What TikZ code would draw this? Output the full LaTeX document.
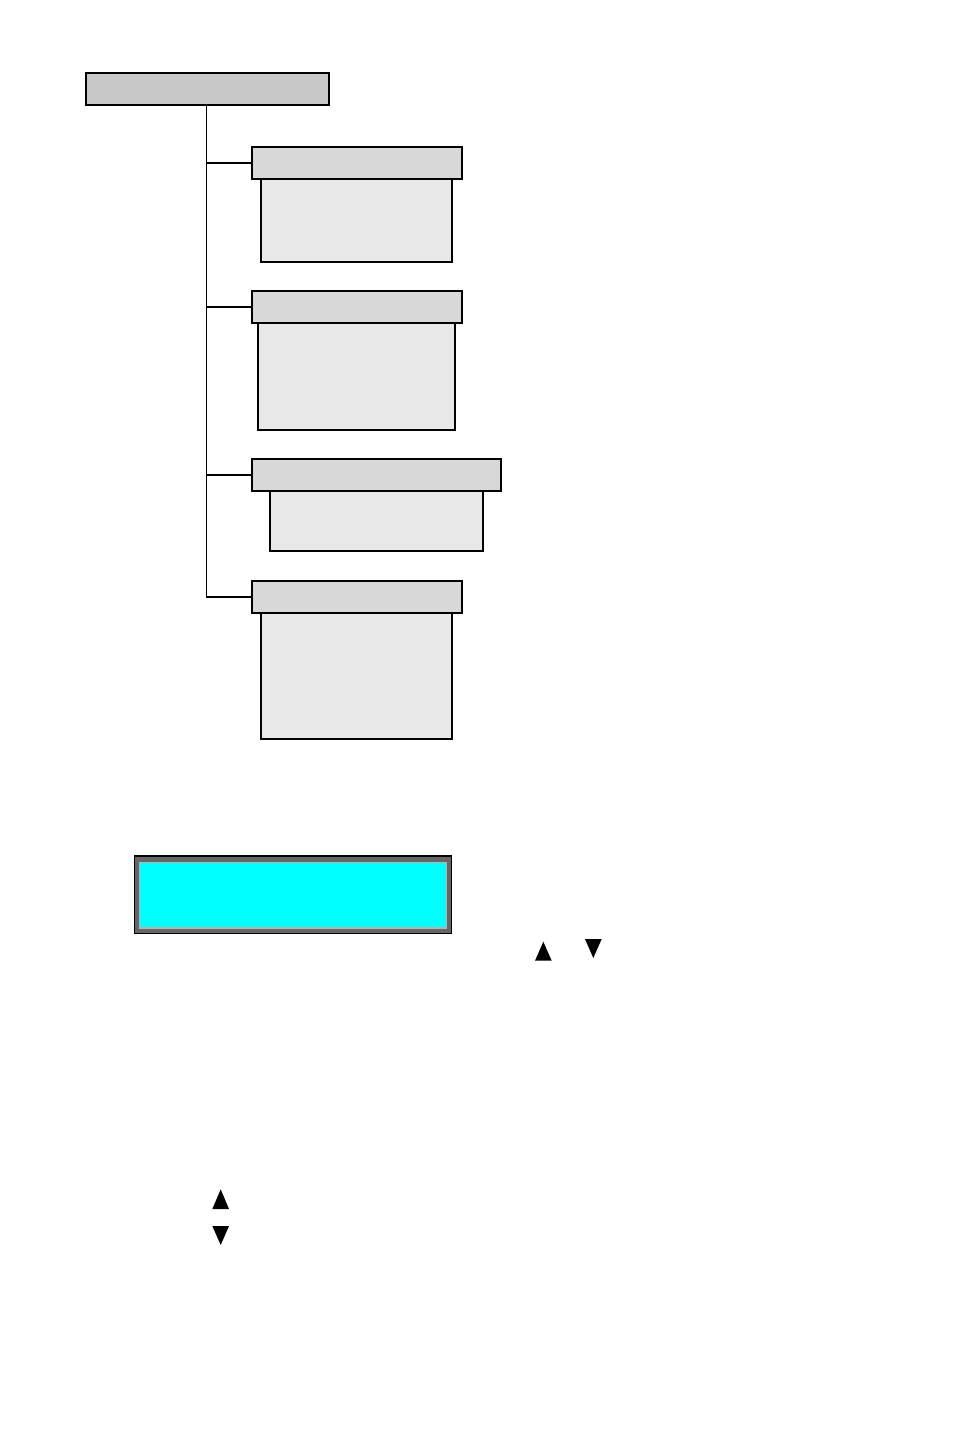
\documentclass[tikz,border=0pt]{standalone}
\definecolor{topfill}{HTML}{C8C8C8}
\definecolor{headfill}{HTML}{D8D8D8}
\definecolor{bodyfill}{HTML}{E8E8E8}
\definecolor{lcdframe}{HTML}{666666}
\definecolor{lcdrim}{HTML}{B4B4B4}
\definecolor{lcdcyan}{HTML}{00FFFF}
\begin{document}
\begin{tikzpicture}[x=1pt,y=-1pt,
  boxbase/.style={draw=black,line width=2.2pt,inner sep=0pt,outer sep=0pt,anchor=north west},
  topbox/.style={boxbase,fill=topfill},
  headbox/.style={boxbase,fill=headfill},
  bodybox/.style={boxbase,fill=bodyfill},
  link/.style={draw=black,line width=1.4pt},
  tri/.style={fill=black}]
\useasboundingbox (0,0) rectangle (954,1430);
% top box
\node[topbox,minimum width=243.6pt,minimum height=32.3pt] (top) at (85.7,72.7) {};
% group 1
\node[bodybox,minimum width=191pt,minimum height=82.5pt] (b1) at (261,179.3) {};
\node[headbox,minimum width=210.6pt,minimum height=32.3pt] (h1) at (251.7,147) {};
% group 2
\node[bodybox,minimum width=196.7pt,minimum height=107pt] (b2) at (258.3,323) {};
\node[headbox,minimum width=210.6pt,minimum height=32.3pt] (h2) at (251.7,290.7) {};
% group 3
\node[bodybox,minimum width=213pt,minimum height=60pt] (b3) at (270,491) {};
\node[headbox,minimum width=249.3pt,minimum height=32pt] (h3) at (251.7,459) {};
% group 4
\node[bodybox,minimum width=191pt,minimum height=126pt] (b4) at (261,613) {};
\node[headbox,minimum width=210.6pt,minimum height=32pt] (h4) at (251.7,581) {};
% connectors
\coordinate (trunk) at (206.7,105);
\draw[link] (trunk) |- (h1.west);
\draw[link] (trunk) |- (h2.west);
\draw[link] (trunk) |- (h3.west);
\draw[link] (trunk) |- (h4.west);
% LCD display
\node[draw=black,line width=1.2pt,fill=lcdframe,inner sep=0pt,outer sep=0pt,anchor=north west,
  minimum width=317.4pt,minimum height=77.3pt] (lcd) at (134.3,856) {};
\node[draw=lcdrim,line width=1.2pt,fill=lcdcyan,inner sep=0pt,outer sep=0pt,anchor=north west,
  minimum width=306.7pt,minimum height=65.3pt] (screen) at (139.3,862.7) {};
% arrow symbols
\fill[tri] (535,960.7) -- (551.7,960.7) -- (543.3,941.7) -- cycle;
\fill[tri] (585,939) -- (601.7,939) -- (593.3,958) -- cycle;
\fill[tri] (212.3,1209) -- (229,1209) -- (220.7,1189.3) -- cycle;
\fill[tri] (212.3,1226) -- (229,1226) -- (220.7,1245) -- cycle;
\end{tikzpicture}
\end{document}
